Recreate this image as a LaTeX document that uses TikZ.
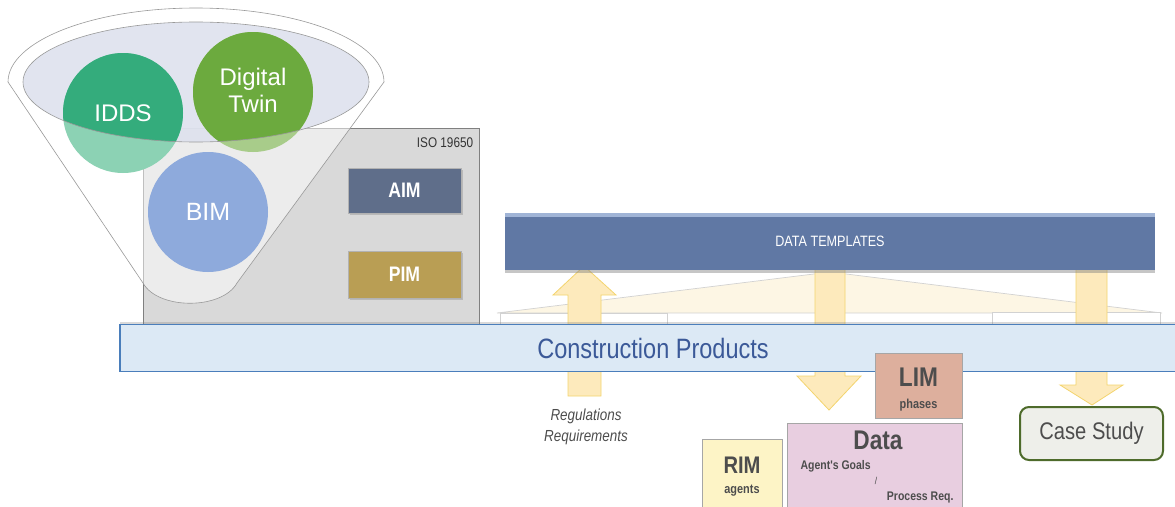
\documentclass[tikz,border=0pt]{standalone}
\usepackage{fontspec}
\setmainfont{Liberation Sans}
\newfontfamily\narrowfont[FakeStretch=0.84]{Liberation Sans}
\usetikzlibrary{shadows}

\definecolor{iddsdark}{RGB}{52,172,124}
\definecolor{iddslight}{RGB}{140,210,180}
\definecolor{twindark}{RGB}{108,170,62}
\definecolor{twinlight}{RGB}{168,204,138}
\definecolor{bimfill}{RGB}{142,170,220}
\definecolor{funnelin}{RGB}{222,226,238}
\definecolor{isofill}{RGB}{217,217,217}
\definecolor{aimfill}{RGB}{95,110,138}
\definecolor{pimfill}{RGB}{185,158,84}
\definecolor{dtfill}{RGB}{96,120,164}
\definecolor{dttop}{RGB}{160,180,214}
\definecolor{cpfill}{RGB}{220,233,245}
\definecolor{cpline}{RGB}{74,126,187}
\definecolor{cptext}{RGB}{59,89,152}
\definecolor{arrfill}{RGB}{253,234,188}
\definecolor{arrline}{RGB}{243,212,110}
\definecolor{fanfill}{RGB}{253,246,228}
\definecolor{limfill}{RGB}{221,175,157}
\definecolor{datafill}{RGB}{232,206,224}
\definecolor{rimfill}{RGB}{253,244,198}
\definecolor{casefill}{RGB}{238,239,234}
\definecolor{caseline}{RGB}{78,107,43}
\definecolor{boxtext}{RGB}{77,77,77}

\begin{document}
\begin{tikzpicture}[x=1pt,y=-1pt,
    circtext/.style={text=white,align=center,font=\fontsize{24}{27}\selectfont},
    modelbox/.style={draw=gray!60,inner sep=0pt,text=white,
      font=\narrowfont\bfseries\fontsize{21}{24}\selectfont,
      drop shadow={opacity=0.35,shadow xshift=2pt,shadow yshift=-2pt}},
    infobox/.style={draw=gray!70,line width=0.6pt,inner sep=0pt},
    bigtext/.style={text=boxtext,font=\narrowfont\bfseries\fontsize{27}{30}\selectfont},
    smalltext/.style={text=boxtext,font=\narrowfont\bfseries\fontsize{13}{15}\selectfont},
    blockarrow/.style={fill=arrfill,draw=arrline,line width=0.8pt}]

\useasboundingbox (0,0) rectangle (1175,506);

% ISO 19650 frame
\node[fill=isofill, draw=gray, line width=0.7pt, minimum width=336, minimum height=196, inner sep=0pt] (iso) at (311,226) {};
\node[anchor=north east, text=black!80, font=\narrowfont\fontsize{14}{16}\selectfont, inner sep=2pt] (isolabel) at ([xshift=-4pt,yshift=-8pt]iso.north east) {ISO 19650};

% funnel
\draw[fill=white, fill opacity=0.5, draw=gray!80, line width=0.6pt]
  (8,82) arc[start angle=180, end angle=0, x radius=188pt, y radius=74pt]
  -- (237,283) .. controls (222,310) and (158,310) .. (143,283) -- cycle;
\fill[funnelin, fill opacity=0.9] (196,82) ellipse[x radius=173pt, y radius=60pt];

% circles
\node[circle, fill=iddslight, minimum size=120, inner sep=0pt] (idds) at (123,113) {};
\node[circle, fill=twinlight, minimum size=120, inner sep=0pt] (twin) at (253,92) {};
\begin{scope}
  \clip (196,82) ellipse[x radius=173pt, y radius=60pt];
  \fill[iddsdark] (idds.center) circle[radius=60pt];
  \fill[twindark] (twin.center) circle[radius=60pt];
\end{scope}
\draw[gray!80, line width=0.6pt] (196,82) ellipse[x radius=173pt, y radius=60pt];
\node[circtext] (iddstext) at (idds.center) {IDDS};
\node[circtext] (twintext) at ([yshift=2pt]twin.center) {Digital\\Twin};
\node[circle, fill=bimfill, minimum size=120, inner sep=0pt, circtext, font=\fontsize{25}{28}\selectfont] (bim) at (208,212) {BIM};

\node[modelbox, fill=aimfill, minimum width=113, minimum height=45] (aim) at (404.5,190.5) {AIM};
\node[modelbox, fill=pimfill, minimum width=113, minimum height=47] (pim) at (404.5,274.5) {PIM};

% fan below the templates
\draw[fill=fanfill, draw=gray!35, line width=0.7pt] (830,272) -- (497,313) -- (1162,313) -- cycle;
\draw[fill=white, draw=gray!35, line width=0.7pt] (500,313) rectangle (667,330);
\draw[fill=white, draw=gray!35, line width=0.7pt] (992,312) rectangle (1160,330);

% block arrows
\draw[blockarrow] (568,396) -- (568,295) -- (553,295) -- (584,266) -- (616,295) -- (601,295) -- (601,396) -- cycle;
\draw[blockarrow] (815,268) -- (815,376) -- (797,376) -- (829,410) -- (861,376) -- (845,376) -- (845,268) -- cycle;
\draw[blockarrow] (1076,266) -- (1076,385) -- (1060,385) -- (1092,405) -- (1123,385) -- (1107,385) -- (1107,266) -- cycle;

% data templates bar
\node[fill=dtfill, minimum width=650, minimum height=57, inner sep=0pt,
  drop shadow={opacity=0.45,shadow xshift=0pt,shadow yshift=-3pt},
  text=white, font=\narrowfont\fontsize{15}{17}\selectfont] (templates) at (830,241.5) {DATA TEMPLATES};
\fill[dttop] (templates.north west) rectangle ([yshift=-4pt]templates.north east);

% construction products bar
\node[fill=cpfill, draw=cpline, line width=1.5pt, minimum width=1060, minimum height=47, inner sep=0pt,
  drop shadow={opacity=0.3,shadow xshift=0pt,shadow yshift=3pt}] (products) at (650,348) {};
\node[text=cptext, font=\narrowfont\fontsize{28}{30}\selectfont] (productstext) at (653,348) {Construction Products};

\node[text=boxtext, align=center, font=\narrowfont\itshape\fontsize{16}{21}\selectfont] (regs) at (586,427) {Regulations\\Requirements};

% information models
\node[infobox, fill=limfill, minimum width=87, minimum height=65] (lim) at (918.5,385.5) {};
\node[bigtext] (limtext) at (918.5,377) {LIM};
\node[smalltext] (phases) at (918.5,405) {phases};

\node[infobox, fill=datafill, minimum width=175, minimum height=84] (data) at (874.5,465) {};
\node[bigtext] (datatext) at (878,440) {Data};
\node[smalltext, font=\narrowfont\bfseries\fontsize{12.5}{14}\selectfont, anchor=west] (goals) at (797,466) {Agent's Goals};
\node[smalltext, font=\narrowfont\fontsize{10}{12}\selectfont] (slash) at (876,481) {/};
\node[smalltext, font=\narrowfont\bfseries\fontsize{12.5}{14}\selectfont, anchor=east] (process) at (957,497) {Process Req.};

\node[infobox, fill=rimfill, minimum width=80, minimum height=68] (rim) at (742,473) {};
\node[bigtext, font=\narrowfont\bfseries\fontsize{24}{27}\selectfont] (rimtext) at (742,465) {RIM};
\node[smalltext] (agents) at (742,491) {agents};

\node[fill=casefill, draw=caseline, line width=2pt, rounded corners=9pt, minimum width=143, minimum height=53,
  text=boxtext, font=\narrowfont\fontsize{24}{26}\selectfont] (casestudy) at (1091.5,433.5) {Case Study};

\end{tikzpicture}
\end{document}
